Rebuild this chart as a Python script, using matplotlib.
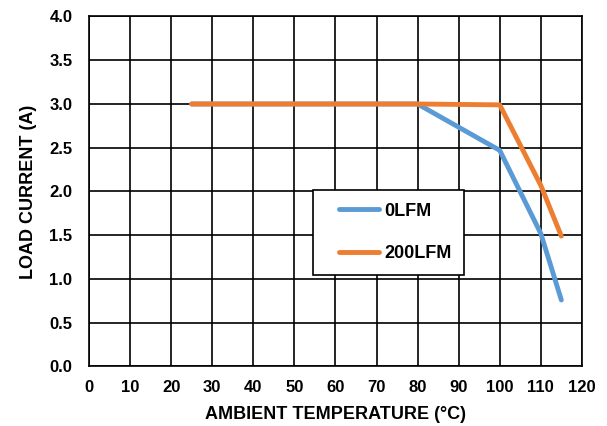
import numpy as np
import matplotlib.pyplot as plt
from matplotlib.legend_handler import HandlerLine2D

plt.rcParams['font.family'] = ['Liberation Sans', 'DejaVu Sans']
plt.rcParams['font.weight'] = 'bold'

# Данные
temp_0lfm = [25, 80, 100, 110, 115]
current_0lfm = [3.0, 3.0, 2.47, 1.52, 0.76]
temp_200lfm = [25, 80, 100, 110, 115]
current_200lfm = [3.0, 3.0, 2.99, 2.07, 1.49]
x_ticks = list(range(0, 121, 10))
y_ticks = [0.0, 0.5, 1.0, 1.5, 2.0, 2.5, 3.0, 3.5, 4.0]


class InsetLine(HandlerLine2D):
    # линия в легенде начинается с отступом, как в Excel
    def create_artists(self, legend, orig_handle, xdescent, ydescent,
                       width, height, fontsize, trans):
        artists = super().create_artists(legend, orig_handle, xdescent, ydescent,
                                         width, height, fontsize, trans)
        for a in artists:
            x = np.asarray(a.get_xdata(), dtype=float)
            if len(x) >= 2:
                a.set_xdata(np.linspace(x[0] + 0.24 * width, x[-1] - 0.03 * width, len(x)))
        return artists


fig = plt.figure(figsize=(6.07, 4.26), dpi=100)
ax = fig.add_axes([0.1466, 0.1397, 0.812, 0.8216])

l1, = ax.plot(temp_0lfm, current_0lfm, color='#5B9BD5', linewidth=3.5,
              solid_capstyle='round', solid_joinstyle='round', label='0LFM')
l2, = ax.plot(temp_200lfm, current_200lfm, color='#ED7D31', linewidth=3.5,
              solid_capstyle='round', solid_joinstyle='round', label='200LFM')

ax.set_xlim(0, 120)
ax.set_ylim(0, 4)
ax.set_xticks(x_ticks)
ax.set_yticks(y_ticks)
ax.set_yticklabels([f'{v:.1f}' for v in y_ticks])
ax.grid(True, color='black', linewidth=1.2)
ax.tick_params(length=0, labelsize=12)
ax.tick_params(axis='x', pad=10)
ax.tick_params(axis='y', pad=12)
for s in ax.spines.values():
    s.set_linewidth(1.2)
for lbl in ax.get_xticklabels() + ax.get_yticklabels():
    lbl.set_fontweight('bold')

ax.set_xlabel('AMBIENT TEMPERATURE (°C)', fontsize=13, fontweight='bold', labelpad=8)
ax.set_ylabel('LOAD CURRENT (A)', fontsize=13, fontweight='bold', labelpad=9)

leg = ax.legend(loc='upper left', bbox_to_anchor=(0.454, 0.504), fancybox=False,
                edgecolor='black', framealpha=1, fontsize=13, handlelength=3.07,
                handletextpad=0.17, labelspacing=1.4, borderpad=0.7,
                borderaxespad=0, handler_map={l1: InsetLine(), l2: InsetLine()})
leg.get_frame().set_linewidth(1.2)
for t in leg.get_texts():
    t.set_fontweight('bold')

fig.savefig('out.png', dpi=100)
